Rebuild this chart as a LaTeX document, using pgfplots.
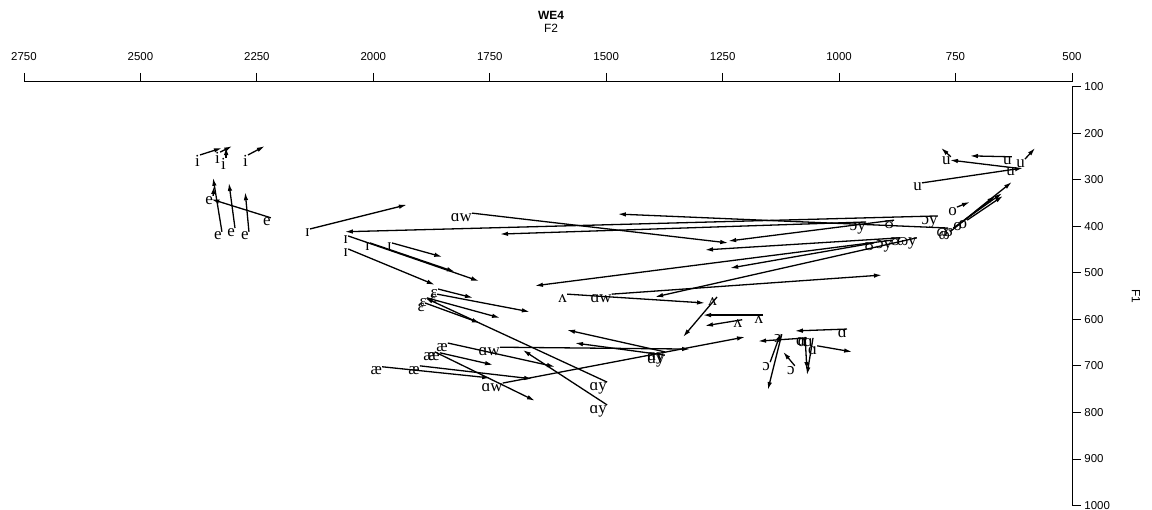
\documentclass[border=0pt]{standalone}
\usepackage{pgfplots}
\pgfplotsset{compat=1.18}
\usepackage{pgfplotstable}
\usetikzlibrary{arrows.meta}
\usepackage{fontspec}
\setmainfont{Liberation Serif}
\newfontfamily\axisfont{Liberation Sans}

\pgfplotstableread{
x1 y1 x2 y2 lab
2372 247 2325 232 i
2329 241 2303 228 i
2316 254 2316 230 i
2269 247 2233 228 i
2325 412 2344 296 e
2297 404 2310 307 e
2267 412 2275 327 e
2220 382 2348 342 e
2344 335 2342 314 e
2136 406 1928 354 ɪ
2054 421 1773 518 ɪ
2054 449 1868 526 ɪ
2007 436 1825 498 ɪ
1960 436 1852 466 ɪ
1861 535 1786 554 ɛ
1863 546 1664 584 ɛ
1885 554 1728 597 ɛ
1889 565 1771 608 ɛ
1840 651 1610 702 æ
1857 672 1743 698 æ
1868 670 1653 775 æ
1900 700 1659 728 æ
1981 702 1749 726 æ
1498 735 1889 554 ɑy
1498 784 1679 666 ɑy
1374 670 1584 623 ɑy
1374 677 1567 651 ɑy
1788 372 1238 436 ɑw
1728 660 1320 664 ɑw
1722 737 1202 638 ɑw
1488 546 908 505 ɑw
1584 546 1288 565 ʌ
1262 552 1335 638 ʌ
1208 601 1288 614 ʌ
1163 591 1292 591 ʌ
983 621 1095 625 ɑ
1069 640 1174 647 ɑ
1047 657 972 670 ɑ
1073 638 1069 709 ɑ
1056 640 1069 720 ɑ
1148 692 1125 629 ɔ
1095 700 1120 670 ɔ
1123 632 1153 752 ɔ
760 251 781 232 u
629 251 719 249 u
601 256 579 232 u
622 275 762 258 u
822 307 605 275 u
747 359 719 348 o
736 391 629 305 o
755 404 650 329 ʊ
762 412 665 335 ɷ
725 387 648 335 o
788 378 2061 412 ɔy
942 391 1728 417 ɔy
886 430 1653 528 ɔy
882 387 1238 432 ʊ
925 436 1234 490 ʊ
869 425 1288 451 ʊ
766 404 1475 374 ɷ
833 425 1395 552 ɷy
}\tokens

\begin{document}
\begin{tikzpicture}
\useasboundingbox (0,0) rectangle (1152bp,-510bp);
\begin{axis}[
  at={(24bp,-81.84bp)}, anchor=north west,
  scale only axis, width=1048bp, height=423.66bp,
  x dir=reverse, y dir=reverse,
  xmin=500, xmax=2750, ymin=90, ymax=1000,
  axis x line*=top, axis y line*=right,
  y axis line style={draw=none},
  x axis line style={line width=0.8bp},
  xtick={500,750,...,2750}, ytick={100,200,...,1000},
  tick align=outside, major tick length=9bp,
  tick style={black, line width=0.8bp},
  /pgf/number format/1000 sep={},
  /pgf/number format/assume math mode=true,
  ticklabel style={font=\axisfont\fontsize{11.5}{12}\selectfont},
  xticklabel shift=9bp,
  yticklabel style={anchor=west, xshift=0bp},
  clip=false,
]
\draw[line width=0.8bp] (axis cs:500,100) -- (axis cs:500,1000);
\addplot[black, line width=1.3bp, -{Latex[length=8bp,width=4.5bp]},
  quiver={u=\thisrow{x2}-\thisrow{x1}, v=\thisrow{y2}-\thisrow{y1}}]
  table[x=x1, y=y1] {\tokens};
\addplot[draw=none, mark=none, nodes near coords, point meta=explicit symbolic,
  nodes near coords style={anchor=north east, inner sep=0pt, text=black,
    font=\fontsize{17}{17}\selectfont}]
  table[x=x1, y=y1, meta=lab] {\tokens};
\end{axis}
\node[font=\axisfont\bfseries\fontsize{12}{12}\selectfont] at (551bp,-15bp) {WE4};
\node[font=\axisfont\fontsize{12}{12}\selectfont] at (551bp,-28bp) {F2};
\node[font=\axisfont\fontsize{12}{12}\selectfont, rotate=-90] at (1136bp,-296bp) {F1};
\end{tikzpicture}
\end{document}
